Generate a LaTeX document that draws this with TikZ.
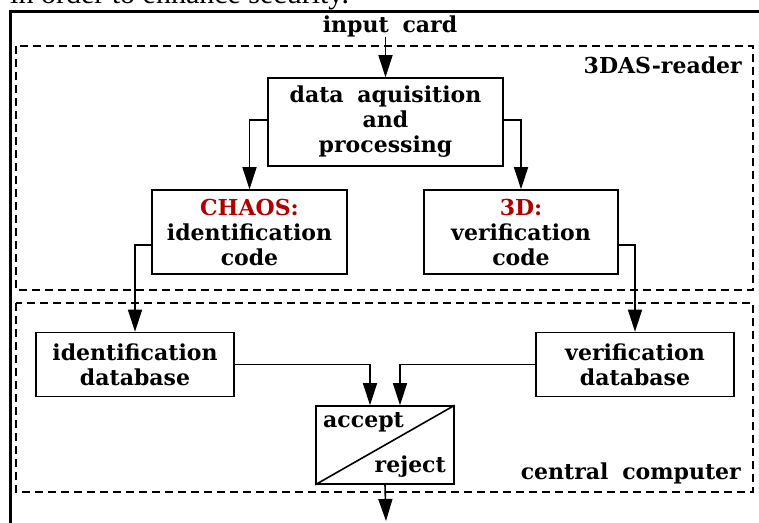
\documentclass[tikz,border=0pt]{standalone}
\usepackage{fontspec}
\setmainfont{DejaVu Serif}[WordSpace=1.8]
\newfontfamily\pagefont{Liberation Serif}
\usetikzlibrary{arrows.meta}
\definecolor{darkred}{RGB}{175,0,0}
\tikzset{
  txt/.style={font=\bfseries\fontsize{22}{25}\selectfont},
  box/.style={draw, line width=1.6pt, align=center, inner sep=0pt, txt},
  region/.style={draw, line width=1.6pt, dash pattern=on 8pt off 5pt},
  lbl/.style={inner sep=0pt, txt},
  arr/.style={line width=1.6pt, -{Triangle[length=22pt,width=14pt]}},
}
\begin{document}
\begin{tikzpicture}[x=1pt,y=-1pt]
\useasboundingbox (0,0) rectangle (759,522);
\begin{scope}
\clip (0,0) rectangle (759,522);
% page text, cut at the top
\node[anchor=base west, inner sep=0pt, font=\pagefont\fontsize{30}{34}\selectfont] (pagetext) at (10,4) {in order to enhance security.};
% outer frame
\draw[line width=3pt] (10,540) -- (10,11) -- (780,11);
% regions
\draw[region] (16,46) rectangle (753,290);
\draw[region] (16,303) rectangle (753,492);
\node[lbl, anchor=base east] (reader) at (742,73) {3DAS-reader};
\node[lbl, anchor=base east] (central) at (741,479) {central computer};
\node[lbl, anchor=base] (inp) at (390,32) {input card};
% boxes
\node[box, minimum width=235pt, minimum height=88pt] (data) at (385.5,122) {data aquisition\\and\\processing};
\node[box, minimum width=195pt, minimum height=84pt] (chaos) at (249.5,232) {\textcolor{darkred}{CHAOS:}\\identification\\code};
\node[box, minimum width=194pt, minimum height=84pt] (threeD) at (521,232) {\textcolor{darkred}{3D:}\\verification\\code};
\node[box, minimum width=198pt, minimum height=64pt] (iddb) at (135,364.5) {identification\\database};
\node[box, minimum width=198pt, minimum height=64pt] (verdb) at (635,364.5) {verification\\database};
\node[draw, line width=1.6pt, minimum width=138pt, minimum height=78pt, inner sep=0pt] (acc) at (385,445) {};
\draw[line width=1.6pt] (acc.south west) -- (acc.north east);
\node[lbl, anchor=base west] (accept) at (323,427) {accept};
\node[lbl, anchor=base east] (reject) at (446,472) {reject};
% connectors
\coordinate (out) at (386,521);
\draw[arr] (inp.south -| data.north) -- (data.north);
\draw[arr] ([yshift=2pt]data.west) -| (chaos.north);
\draw[arr] ([yshift=2pt]data.east) -| (threeD.north);
\draw[arr] ([yshift=-13pt]chaos.west) -| (iddb.north);
\draw[arr] ([yshift=-13pt]threeD.east) -| (verdb.north);
\draw[arr] (iddb.east) -| ([xshift=-15pt]acc.north);
\draw[arr] (verdb.west) -| ([xshift=15pt]acc.north);
\draw[arr] (acc.south) -- (out);
\end{scope}
\end{tikzpicture}
\end{document}
